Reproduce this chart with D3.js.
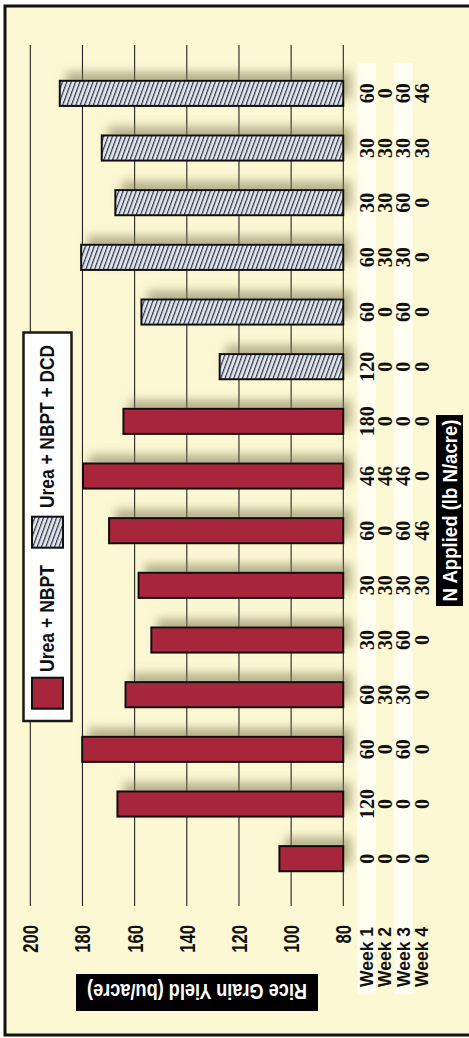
<!DOCTYPE html>
<html>
<head>
<meta charset="utf-8">
<script src="https://cdn.jsdelivr.net/npm/d3@7"></script>
<style>
  html, body { margin: 0; padding: 0; background: #ffffff; }
  svg { display: block; }
</style>
</head>
<body>
<div id="chart"></div>
<script>
// ---------------- DATA ----------------
const series = ["Urea + NBPT", "Urea + NBPT + DCD"];
// N applied per week for each treatment (bottom of chart = first)
const week1 = [0, 120, 60, 60, 30, 30, 60, 46, 180, 120, 60, 60, 30, 30, 60];
const week2 = [0, 0, 0, 30, 30, 30, 0, 46, 0, 0, 0, 30, 30, 30, 0];
const week3 = [0, 0, 60, 30, 60, 30, 60, 46, 0, 0, 60, 30, 60, 30, 60];
const week4 = [0, 0, 0, 0, 0, 30, 46, 0, 0, 0, 0, 0, 0, 30, 46];
const seriesOf = [0, 0, 0, 0, 0, 0, 0, 0, 0, 1, 1, 1, 1, 1, 1];
const yieldValues = [104.5, 166.6, 180.1, 163.5, 153.6, 158.5, 169.8, 179.8, 164.3,
                     127.4, 157.4, 180.5, 167.4, 172.6, 188.7];
const weekLabels = ["Week 1", "Week 2", "Week 3", "Week 4"];
const yieldTicks = [80, 100, 120, 140, 160, 180, 200];
const valueTitle = "Rice Grain Yield (bu/acre)";
const nTitle = "N Applied (lb N/acre)";

// ---------------- LAYOUT ----------------
const W = 469, H = 1038;
const svg = d3.select("#chart").append("svg").attr("width", W).attr("height", H);
const defs = svg.append("defs");

const hatch = defs.append("pattern")
  .attr("id", "hatch").attr("patternUnits", "userSpaceOnUse")
  .attr("width", 4.1).attr("height", 10)
  .attr("patternTransform", "rotate(20)");
hatch.append("rect").attr("width", 4.1).attr("height", 10).attr("fill", "#dbe3f0");
hatch.append("line").attr("x1", 0.6).attr("y1", 0).attr("x2", 0.6).attr("y2", 10)
  .attr("stroke", "#2a2a2a").attr("stroke-width", 1.1);

const shadow = defs.append("filter").attr("id", "shadow")
  .attr("x", "-20%").attr("y", "-80%").attr("width", "140%").attr("height", "260%");
shadow.append("feDropShadow").attr("dx", 7).attr("dy", -8).attr("stdDeviation", 5)
  .attr("flood-color", "#7d7a52").attr("flood-opacity", 0.55);

// background + frame
svg.append("rect").attr("x", 5).attr("y", 6).attr("width", W).attr("height", 1029)
  .attr("fill", "#fdf8d4").attr("stroke", "#111").attr("stroke-width", 3);

const idx = d3.range(yieldValues.length);
const x = d3.scaleLinear().domain([80, 200]).range([343.3, 30.3]);
const y = d3.scaleBand().domain(idx).range([886, 66]).paddingInner(0.54).paddingOuter(0.27);
const col = d3.scalePoint().domain(weekLabels).range([366.7, 421.7]);

// stripes behind week 1 and 3
svg.selectAll("rect.stripe").data([weekLabels[0], weekLabels[2]]).join("rect")
  .attr("class", "stripe")
  .attr("x", d => col(d) - 9.3).attr("width", 18.6)
  .attr("y", 63).attr("height", 931)
  .attr("fill", "#fffef2");

// gridlines
svg.append("g").attr("class", "grid")
  .selectAll("line").data(yieldTicks).join("line")
  .attr("x1", d => x(d)).attr("x2", d => x(d))
  .attr("y1", 45).attr("y2", 906)
  .attr("stroke", "#222").attr("stroke-width", 1.1);

// bars
svg.append("g").selectAll("rect").data(idx).join("rect")
  .attr("x", i => x(yieldValues[i]))
  .attr("width", i => x(80) - x(yieldValues[i]))
  .attr("y", i => y(i)).attr("height", y.bandwidth())
  .attr("fill", i => seriesOf[i] === 0 ? "#a8263b" : "url(#hatch)")
  .attr("stroke", "#111").attr("stroke-width", 2)
  .attr("filter", "url(#shadow)");

// N applied numbers
const weeks = [week1, week2, week3, week4];
const numG = svg.append("g")
  .attr("font-family", "'Liberation Serif', 'DejaVu Serif', serif")
  .attr("font-weight", "bold").attr("font-size", 20).attr("fill", "#111");
weekLabels.forEach((wl, w) => {
  numG.selectAll(null).data(idx).join("text")
    .attr("transform", i => `translate(${col(wl)},${y(i) + y.bandwidth() / 2}) rotate(-90)`)
    .attr("text-anchor", "middle").attr("dy", "0.35em")
    .text(i => weeks[w][i]);
});

// week labels
svg.append("g").selectAll("text").data(weekLabels).join("text")
  .attr("transform", d => `translate(${col(d)},927) rotate(-90)`)
  .attr("text-anchor", "end").attr("dy", "0.36em")
  .attr("font-family", "'Liberation Sans', Arial, sans-serif")
  .attr("font-weight", "bold").attr("font-size", 17.5).attr("fill", "#111")
  .text(d => d);

// value tick labels
svg.append("g").selectAll("text").data(yieldTicks).join("text")
  .attr("transform", d => `translate(${x(d)},925) rotate(-90) scale(0.76,1)`)
  .attr("text-anchor", "end").attr("dy", "0.36em")
  .attr("font-family", "'Liberation Sans', Arial, sans-serif")
  .attr("font-weight", "bold").attr("font-size", 22).attr("fill", "#111")
  .text(d => d);

// value axis title (upside down)
svg.append("rect").attr("x", 76).attr("y", 974).attr("width", 242).attr("height", 37)
  .attr("fill", "#000");
svg.append("text")
  .attr("transform", "translate(197,984) rotate(180)")
  .attr("text-anchor", "middle")
  .attr("font-family", "'Liberation Sans', Arial, sans-serif")
  .attr("font-weight", "bold").attr("font-size", 22).attr("fill", "#fff")
  .attr("textLength", 220).attr("lengthAdjust", "spacingAndGlyphs")
  .text(valueTitle);

// N applied title
svg.append("rect").attr("x", 436).attr("y", 415).attr("width", 27).attr("height", 191)
  .attr("fill", "#000");
svg.append("text")
  .attr("transform", "translate(456.5,510.5) rotate(-90)")
  .attr("text-anchor", "middle")
  .attr("font-family", "'Liberation Sans', Arial, sans-serif")
  .attr("font-weight", "bold").attr("font-size", 20).attr("fill", "#fff")
  .attr("textLength", 182).attr("lengthAdjust", "spacingAndGlyphs")
  .text(nTitle);

// legend
svg.append("rect").attr("x", 23.5).attr("y", 332.5).attr("width", 48).attr("height", 388.5)
  .attr("fill", "#fff").attr("stroke", "#1a1a1a").attr("stroke-width", 2.5);
const legendItems = [
  { name: series[0], fill: "#a8263b", sy: 677.7, ty: 672, len: 107 },
  { name: series[1], fill: "url(#hatch)", sy: 516.7, ty: 508, len: 163 }
];
const lg = svg.append("g");
lg.selectAll("rect").data(legendItems).join("rect")
  .attr("x", 32).attr("y", d => d.sy).attr("width", 31).attr("height", 31)
  .attr("fill", d => d.fill).attr("stroke", "#111").attr("stroke-width", 2);
lg.selectAll("text").data(legendItems).join("text")
  .attr("transform", d => `translate(53.5,${d.ty}) rotate(-90)`)
  .attr("text-anchor", "start")
  .attr("font-family", "'Liberation Sans', Arial, sans-serif")
  .attr("font-weight", "bold").attr("font-size", 21).attr("fill", "#111")
  .attr("textLength", d => d.len).attr("lengthAdjust", "spacingAndGlyphs")
  .text(d => d.name);
</script>
</body>
</html>
